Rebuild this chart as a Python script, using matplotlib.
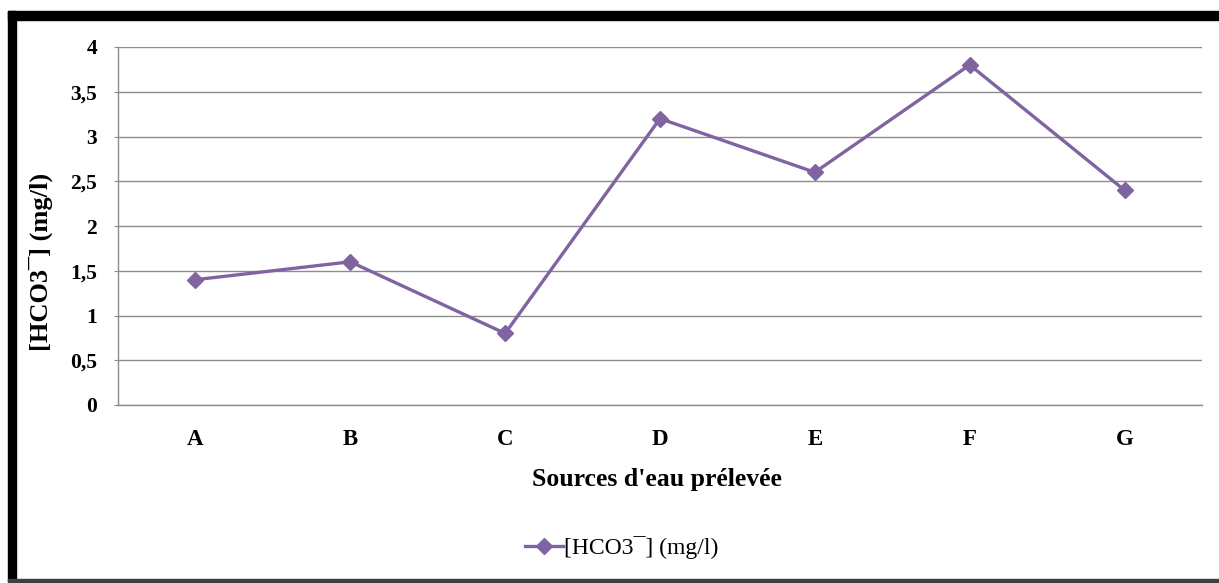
import matplotlib
matplotlib.use("Agg")
import matplotlib.pyplot as plt
from matplotlib.patches import Rectangle
from matplotlib.ticker import FuncFormatter

# Teneur en bicarbonates par source
sources = ["A", "B", "C", "D", "E", "F", "G"]
hco3 = [1.4, 1.6, 0.8, 3.2, 2.6, 3.8, 2.4]
yticks = [0, 0.5, 1, 1.5, 2, 2.5, 3, 3.5, 4]

plt.rcParams["font.family"] = ["Liberation Serif", "DejaVu Serif"]

W, H = 1219, 583
fig = plt.figure(figsize=(W / 100, H / 100), dpi=100)
ax = fig.add_axes([118 / W, 1 - 405 / H, (1202 - 118) / W, (405 - 47) / H])

violet = "#8064A2"
x = list(range(len(sources)))
ax.plot(x, hco3, color=violet, lw=2.4, marker="D", ms=8,
        label="[HCO3\u00af] (mg/l)", zorder=3)

ax.set_xlim(-0.5, len(sources) - 0.5)
ax.set_ylim(0, 4)
ax.set_yticks(yticks)
ax.yaxis.set_major_formatter(FuncFormatter(
    lambda v, p: ("%g" % v).replace(".", ",")))
ax.set_xticks(x)
ax.set_xticklabels(sources)

ax.grid(axis="y", color="#8c8c8c", lw=1)
ax.set_axisbelow(True)
for s in ["top", "right"]:
    ax.spines[s].set_visible(False)
for s in ["left", "bottom"]:
    ax.spines[s].set_color("#8c8c8c")
    ax.spines[s].set_linewidth(1)

ax.tick_params(axis="y", length=3, color="#8c8c8c", pad=12, labelsize=15.5)
ax.tick_params(axis="x", length=0, pad=17, labelsize=16.5)
for lab in ax.get_xticklabels() + ax.get_yticklabels():
    lab.set_fontweight("bold")

ax.set_xlabel("Sources d'eau prélevée", fontsize=18.5, fontweight="bold")
ax.xaxis.set_label_coords(0.497, -0.177)
ax.set_ylabel("[HCO3\u00af] (mg/l)", fontsize=19, fontweight="bold")
ax.yaxis.set_label_coords(-0.060, 0.40)

leg = fig.legend(loc="center", bbox_to_anchor=(622 / W, 1 - 548 / H),
                 frameon=False, fontsize=17, handlelength=1.6,
                 handletextpad=0.05)

# cadre noir autour du graphique
fig.patches.append(Rectangle((8 / W, 1 - 20 / H), 1 - 8 / W, 9 / H,
                             transform=fig.transFigure, color="black"))
fig.patches.append(Rectangle((8 / W, 1 - 581 / H), 8 / W, 570 / H,
                             transform=fig.transFigure, color="black"))
fig.patches.append(Rectangle((8 / W, 1 - 582 / H), 1 - 8 / W, 3 / H,
                             transform=fig.transFigure, color="#404040"))

fig.savefig("out.png", dpi=100)
